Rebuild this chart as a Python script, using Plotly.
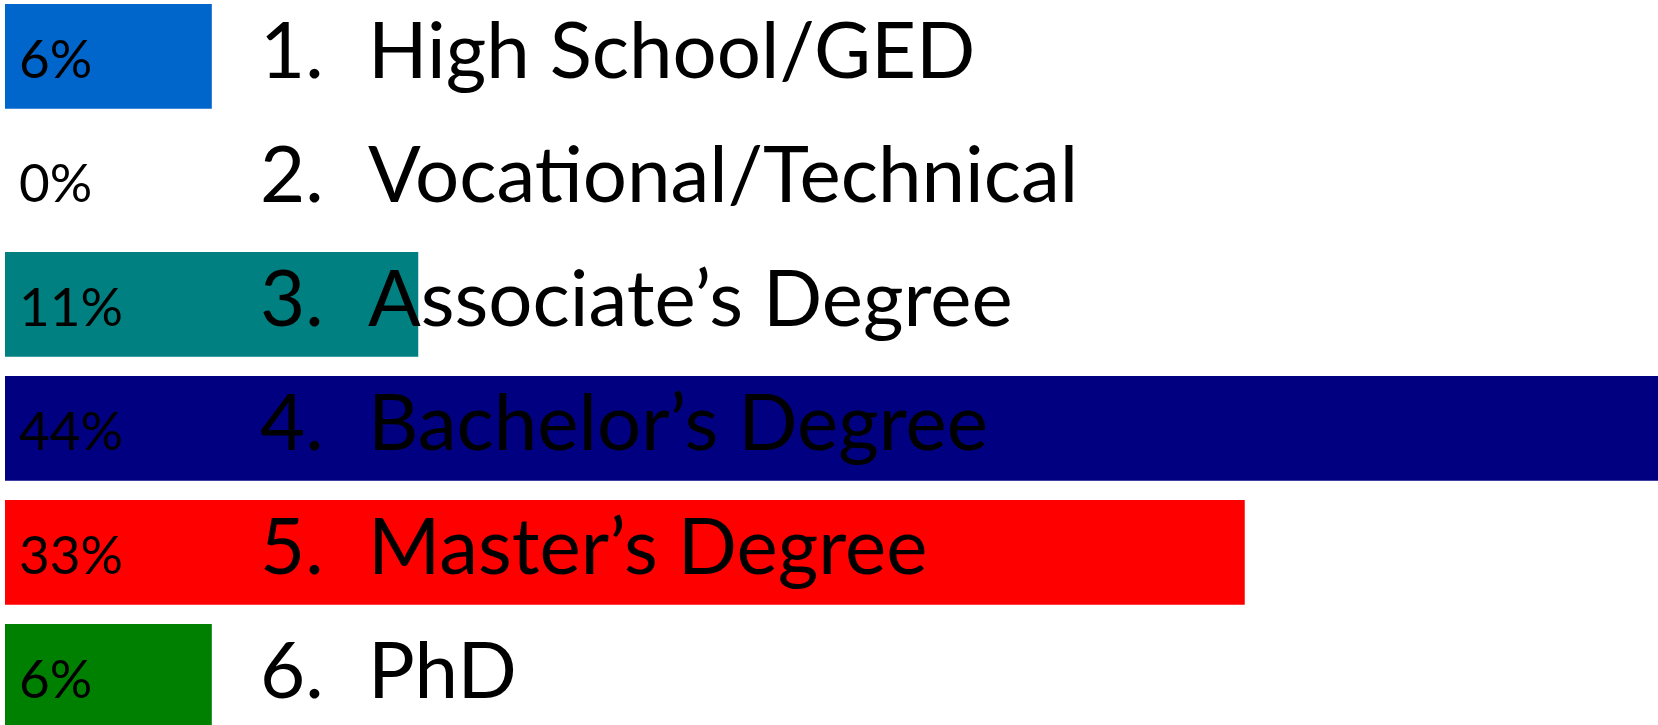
import plotly.graph_objects as go

numbers = ["1.", "2.", "3.", "4.", "5.", "6."]
categories = ["High School/GED", "Vocational/Technical", "Associate\u2019s Degree",
              "Bachelor\u2019s Degree", "Master\u2019s Degree", "PhD"]
values = [5.56, 0.0, 11.11, 44.44, 33.33, 5.56]
pct_labels = ["6%", "0%", "11%", "44%", "33%", "6%"]
colors = ["#0066CC", "#FFFFFF", "#008080", "#000080", "#FF0000", "#008000"]

W, H = 1658, 725
L = 5
PW = W - L

fig = go.Figure()
fig.add_trace(go.Bar(
    y=categories, x=values, orientation="h",
    marker=dict(color=colors, line=dict(width=0)),
    hoverinfo="skip", showlegend=False,
))

FONT = "Lato"
for i, cat in enumerate(categories):
    fig.add_annotation(x=0, y=cat, xref="x", yref="y", text=pct_labels[i],
                       showarrow=False, xanchor="left", yanchor="middle",
                       xshift=12, yshift=-1,
                       font=dict(family=FONT, size=53, color="#000000"))
    fig.add_annotation(x=(258 - L) / PW, y=cat, xref="paper", yref="y", text=numbers[i],
                       showarrow=False, xanchor="left", yanchor="middle",
                       yshift=8,
                       font=dict(family=FONT, size=78, color="#000000"))
    fig.add_annotation(x=(366 - L) / PW, y=cat, xref="paper", yref="y", text=cat,
                       showarrow=False, xanchor="left", yanchor="middle",
                       yshift=8,
                       font=dict(family=FONT, size=78, color="#000000"))

pitch = 124.0
c0 = 56.3
fig.update_layout(
    width=W, height=H,
    margin=dict(l=L, r=0, t=0, b=0, pad=0),
    paper_bgcolor="white", plot_bgcolor="white",
    bargap=1 - 104.7 / pitch,
    xaxis=dict(range=[0, max(values)], visible=False, showgrid=False, zeroline=False, fixedrange=True),
    yaxis=dict(categoryorder="array", categoryarray=categories,
               range=[(H - c0) / pitch, -c0 / pitch],
               visible=False, showgrid=False, zeroline=False, fixedrange=True),
)

fig.write_html("out.html", config={"displayModeBar": False},
               post_script="document.body.style.margin='0';document.body.style.overflow='hidden';")
